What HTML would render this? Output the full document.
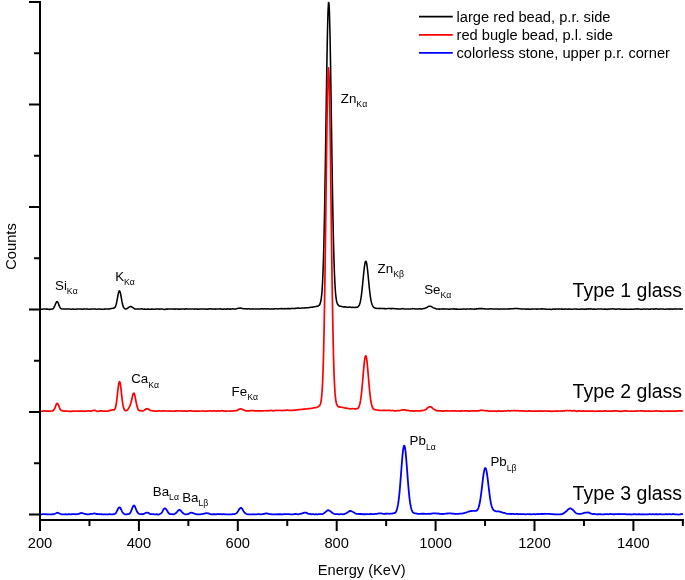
<!DOCTYPE html><html><head><meta charset="utf-8"><title>XRF spectra</title>
<style>html,body{margin:0;padding:0;background:#fff}svg{display:block}text{font-family:"Liberation Sans",sans-serif;fill:#000}</style></head><body>
<svg width="685" height="580" viewBox="0 0 685 580">
<rect width="685" height="580" fill="#fff"/>
<polyline fill="none" stroke="#000" stroke-width="1.55" stroke-linejoin="round" points="40.0,309.08 40.5,309.10 41.0,309.15 41.5,309.20 42.0,309.22 42.5,309.17 43.0,309.09 43.5,309.05 44.0,309.07 44.5,309.09 45.0,309.07 45.5,309.07 46.0,309.10 46.5,309.13 47.0,309.13 47.5,309.14 48.0,309.22 48.5,309.29 49.0,309.39 49.5,309.38 50.0,309.37 50.5,309.27 51.0,309.20 51.5,309.08 52.0,309.03 52.5,308.94 53.0,308.75 53.5,308.22 54.0,307.46 54.5,306.44 55.0,305.29 55.5,304.00 56.0,302.78 56.5,301.88 57.0,301.51 57.5,301.80 58.0,302.62 58.5,303.81 59.0,305.13 59.5,306.35 60.0,307.37 60.5,308.11 61.0,308.57 61.5,308.83 62.0,308.94 62.5,309.03 63.0,309.05 63.5,309.05 64.0,308.99 64.5,308.96 65.0,309.00 65.5,309.07 66.0,309.10 66.5,309.06 67.0,309.04 67.5,309.02 68.0,308.99 68.5,308.97 69.0,308.98 69.5,309.05 70.0,309.09 70.5,309.15 71.0,309.16 71.5,309.21 72.0,309.17 72.5,309.08 73.0,309.02 73.5,309.04 74.0,309.13 74.5,309.20 75.0,309.22 75.5,309.24 76.0,309.17 76.5,309.08 77.0,308.98 77.5,309.00 78.0,309.07 78.5,309.08 79.0,309.06 79.5,309.02 80.0,309.05 80.5,309.07 81.0,309.09 81.5,309.12 82.0,309.15 82.5,309.19 83.0,309.14 83.5,309.07 84.0,308.99 84.5,308.97 85.0,309.00 85.5,309.01 86.0,309.02 86.5,308.99 87.0,309.04 87.5,309.07 88.0,309.17 88.5,309.24 89.0,309.33 89.5,309.34 90.0,309.28 90.5,309.15 91.0,309.03 91.5,308.99 92.0,309.05 92.5,309.09 93.0,309.10 93.5,309.06 94.0,309.06 94.5,309.04 95.0,309.04 95.5,309.07 96.0,309.12 96.5,309.15 97.0,309.15 97.5,309.17 98.0,309.13 98.5,309.10 99.0,309.03 99.5,309.05 100.0,309.07 100.5,309.17 101.0,309.24 101.5,309.29 102.0,309.30 102.5,309.24 103.0,309.25 103.5,309.18 104.0,309.20 104.5,309.11 105.0,309.10 105.5,309.07 106.0,309.09 106.5,309.06 107.0,308.98 107.5,308.93 108.0,308.95 108.5,309.01 109.0,308.97 109.5,308.89 110.0,308.73 110.5,308.64 111.0,308.54 111.5,308.51 112.0,308.41 112.5,308.33 113.0,308.19 113.5,308.13 114.0,308.02 114.5,307.84 115.0,307.37 115.5,306.46 116.0,305.02 116.5,303.01 117.0,300.55 117.5,297.81 118.0,295.06 118.5,292.69 119.0,291.17 119.5,290.83 120.0,291.64 120.5,293.48 121.0,296.00 121.5,298.90 122.0,301.70 122.5,304.08 123.0,305.89 123.5,307.12 124.0,307.97 124.5,308.46 125.0,308.78 125.5,308.88 126.0,308.91 126.5,308.85 127.0,308.69 127.5,308.40 128.0,307.98 128.5,307.58 129.0,307.18 129.5,306.88 130.0,306.63 130.5,306.51 131.0,306.53 131.5,306.74 132.0,307.03 132.5,307.37 133.0,307.70 133.5,308.07 134.0,308.45 134.5,308.75 135.0,308.90 135.5,308.92 136.0,308.92 136.5,308.93 137.0,308.94 137.5,308.92 138.0,308.92 138.5,308.93 139.0,308.99 139.5,309.00 140.0,309.04 140.5,308.98 141.0,308.93 141.5,308.83 142.0,308.83 142.5,308.94 143.0,309.10 143.5,309.20 144.0,309.17 144.5,309.12 145.0,309.10 145.5,309.16 146.0,309.24 146.5,309.27 147.0,309.20 147.5,309.11 148.0,309.10 148.5,309.15 149.0,309.21 149.5,309.25 150.0,309.26 150.5,309.25 151.0,309.21 151.5,309.13 152.0,309.09 152.5,309.09 153.0,309.18 153.5,309.22 154.0,309.23 154.5,309.20 155.0,309.15 155.5,309.11 156.0,309.01 156.5,308.98 157.0,308.94 157.5,309.02 158.0,309.02 158.5,309.10 159.0,309.13 159.5,309.18 160.0,309.13 160.5,309.07 161.0,309.05 161.5,309.03 162.0,309.02 162.5,309.04 163.0,309.14 163.5,309.28 164.0,309.40 164.5,309.46 165.0,309.40 165.5,309.24 166.0,309.09 166.5,309.08 167.0,309.13 167.5,309.12 168.0,309.04 168.5,309.01 169.0,309.02 169.5,309.03 170.0,309.00 170.5,308.97 171.0,308.99 171.5,309.03 172.0,309.10 172.5,309.07 173.0,309.08 173.5,309.06 174.0,309.12 174.5,309.13 175.0,309.12 175.5,309.04 176.0,308.93 176.5,308.90 177.0,308.93 177.5,309.03 178.0,309.12 178.5,309.20 179.0,309.15 179.5,309.13 180.0,309.10 180.5,309.15 181.0,309.10 181.5,309.04 182.0,308.96 182.5,308.93 183.0,308.94 183.5,308.97 184.0,309.08 184.5,309.12 185.0,309.11 185.5,308.96 186.0,308.88 186.5,308.86 187.0,308.92 187.5,308.98 188.0,309.03 188.5,309.06 189.0,309.03 189.5,308.97 190.0,308.91 190.5,308.95 191.0,309.03 191.5,309.07 192.0,309.03 192.5,308.94 193.0,308.95 193.5,309.02 194.0,309.11 194.5,309.12 195.0,309.08 195.5,309.03 196.0,309.04 196.5,309.06 197.0,309.11 197.5,309.13 198.0,309.19 198.5,309.15 199.0,309.13 199.5,309.04 200.0,309.00 200.5,308.94 201.0,308.94 201.5,308.99 202.0,309.05 202.5,309.08 203.0,309.08 203.5,309.03 204.0,308.95 204.5,308.90 205.0,308.98 205.5,309.05 206.0,309.14 206.5,309.15 207.0,309.15 207.5,309.12 208.0,309.04 208.5,308.97 209.0,308.88 209.5,308.86 210.0,308.83 210.5,308.84 211.0,308.87 211.5,308.99 212.0,309.09 212.5,309.12 213.0,309.00 213.5,308.92 214.0,308.94 214.5,309.06 215.0,309.12 215.5,309.11 216.0,309.05 216.5,309.01 217.0,309.00 217.5,309.00 218.0,309.01 218.5,309.02 219.0,309.00 219.5,308.94 220.0,308.87 220.5,308.82 221.0,308.90 221.5,309.00 222.0,309.14 222.5,309.19 223.0,309.22 223.5,309.14 224.0,309.03 224.5,308.99 225.0,309.05 225.5,309.15 226.0,309.13 226.5,309.02 227.0,308.88 227.5,308.83 228.0,308.92 228.5,309.05 229.0,309.12 229.5,309.11 230.0,309.09 230.5,309.11 231.0,309.07 231.5,309.02 232.0,308.88 232.5,308.84 233.0,308.83 233.5,308.90 234.0,308.93 234.5,308.95 235.0,308.96 235.5,308.99 236.0,308.95 236.5,308.83 237.0,308.63 237.5,308.45 238.0,308.32 238.5,308.27 239.0,308.26 239.5,308.19 240.0,308.13 240.5,308.06 241.0,308.09 241.5,308.19 242.0,308.37 242.5,308.54 243.0,308.64 243.5,308.71 244.0,308.76 244.5,308.83 245.0,308.78 245.5,308.78 246.0,308.78 246.5,308.92 247.0,308.94 247.5,308.93 248.0,308.79 248.5,308.79 249.0,308.80 249.5,308.94 250.0,309.01 250.5,309.06 251.0,309.02 251.5,308.95 252.0,308.92 252.5,308.89 253.0,308.94 253.5,308.99 254.0,309.02 254.5,309.01 255.0,309.00 255.5,309.01 256.0,309.04 256.5,309.06 257.0,309.08 257.5,309.03 258.0,308.98 258.5,308.94 259.0,308.98 259.5,309.00 260.0,309.00 260.5,308.96 261.0,308.87 261.5,308.84 262.0,308.80 262.5,308.85 263.0,308.87 263.5,308.90 264.0,308.89 264.5,308.85 265.0,308.83 265.5,308.83 266.0,308.88 266.5,308.91 267.0,308.87 267.5,308.84 268.0,308.81 268.5,308.89 269.0,308.91 269.5,308.96 270.0,308.95 270.5,308.99 271.0,308.95 271.5,308.90 272.0,308.86 272.5,308.92 273.0,308.98 273.5,308.97 274.0,308.92 274.5,308.87 275.0,308.85 275.5,308.83 276.0,308.79 276.5,308.79 277.0,308.81 277.5,308.90 278.0,308.90 278.5,308.85 279.0,308.70 279.5,308.67 280.0,308.65 280.5,308.68 281.0,308.62 281.5,308.59 282.0,308.61 282.5,308.74 283.0,308.85 283.5,308.86 284.0,308.76 284.5,308.64 285.0,308.63 285.5,308.69 286.0,308.70 286.5,308.70 287.0,308.64 287.5,308.71 288.0,308.64 288.5,308.63 289.0,308.54 289.5,308.61 290.0,308.64 290.5,308.65 291.0,308.53 291.5,308.41 292.0,308.37 292.5,308.47 293.0,308.57 293.5,308.60 294.0,308.52 294.5,308.43 295.0,308.39 295.5,308.39 296.0,308.39 296.5,308.31 297.0,308.18 297.5,308.06 298.0,308.04 298.5,308.11 299.0,308.20 299.5,308.23 300.0,308.22 300.5,308.20 301.0,308.15 301.5,308.10 302.0,308.00 302.5,307.96 303.0,307.93 303.5,307.96 304.0,307.97 304.5,307.96 305.0,307.89 305.5,307.81 306.0,307.75 306.5,307.73 307.0,307.74 307.5,307.71 308.0,307.69 308.5,307.65 309.0,307.60 309.5,307.54 310.0,307.41 310.5,307.30 311.0,307.22 311.5,307.20 312.0,307.16 312.5,307.12 313.0,307.02 313.5,306.95 314.0,306.85 314.5,306.77 315.0,306.64 315.5,306.55 316.0,306.44 316.5,306.39 317.0,306.29 317.5,306.19 318.0,305.97 318.5,305.72 319.0,305.36 319.5,304.86 320.0,304.02 320.5,302.58 321.0,300.25 321.5,296.71 322.0,291.37 322.5,283.54 323.0,272.43 323.5,257.48 324.0,238.23 324.5,214.46 325.0,186.35 325.5,154.69 326.0,121.02 326.5,87.41 327.0,56.28 327.5,30.29 328.0,11.72 328.5,2.46 329.0,3.38 329.5,14.48 330.0,34.57 330.5,61.76 331.0,93.63 331.5,127.63 332.0,161.22 332.5,192.38 333.0,219.70 333.5,242.55 334.0,260.82 334.5,274.87 335.0,285.21 335.5,292.55 336.0,297.49 336.5,300.70 337.0,302.72 337.5,304.01 338.0,304.84 338.5,305.39 339.0,305.78 339.5,306.04 340.0,306.18 340.5,306.22 341.0,306.30 341.5,306.41 342.0,306.57 342.5,306.66 343.0,306.78 343.5,306.87 344.0,306.94 344.5,306.89 345.0,306.85 345.5,306.87 346.0,306.95 346.5,307.07 347.0,307.17 347.5,307.28 348.0,307.25 348.5,307.17 349.0,307.06 349.5,307.05 350.0,307.12 350.5,307.20 351.0,307.29 351.5,307.36 352.0,307.41 352.5,307.38 353.0,307.34 353.5,307.32 354.0,307.40 354.5,307.44 355.0,307.45 355.5,307.37 356.0,307.37 356.5,307.34 357.0,307.33 357.5,307.15 358.0,306.81 358.5,306.28 359.0,305.57 359.5,304.55 360.0,303.01 360.5,300.87 361.0,298.04 361.5,294.50 362.0,290.21 362.5,285.41 363.0,280.26 363.5,275.12 364.0,270.21 364.5,266.07 365.0,263.01 365.5,261.40 366.0,261.29 366.5,262.69 367.0,265.50 367.5,269.48 368.0,274.29 368.5,279.51 369.0,284.69 369.5,289.56 370.0,293.88 370.5,297.57 371.0,300.47 371.5,302.65 372.0,304.26 372.5,305.51 373.0,306.45 373.5,307.08 374.0,307.50 374.5,307.81 375.0,308.01 375.5,308.13 376.0,308.23 376.5,308.36 377.0,308.46 377.5,308.48 378.0,308.42 378.5,308.40 379.0,308.37 379.5,308.38 380.0,308.37 380.5,308.42 381.0,308.47 381.5,308.57 382.0,308.57 382.5,308.57 383.0,308.52 383.5,308.56 384.0,308.61 384.5,308.63 385.0,308.64 385.5,308.67 386.0,308.76 386.5,308.72 387.0,308.61 387.5,308.46 388.0,308.46 388.5,308.49 389.0,308.52 389.5,308.53 390.0,308.59 390.5,308.63 391.0,308.61 391.5,308.62 392.0,308.61 392.5,308.60 393.0,308.52 393.5,308.50 394.0,308.61 394.5,308.73 395.0,308.85 395.5,308.82 396.0,308.78 396.5,308.73 397.0,308.79 397.5,308.86 398.0,308.93 398.5,308.92 399.0,308.93 399.5,308.92 400.0,308.98 400.5,308.98 401.0,308.97 401.5,308.84 402.0,308.72 402.5,308.63 403.0,308.69 403.5,308.84 404.0,309.02 404.5,309.09 405.0,309.07 405.5,309.04 406.0,309.02 406.5,309.06 407.0,309.02 407.5,309.02 408.0,308.95 408.5,308.94 409.0,308.94 409.5,308.97 410.0,309.03 410.5,309.06 411.0,309.03 411.5,308.87 412.0,308.69 412.5,308.60 413.0,308.66 413.5,308.75 414.0,308.84 414.5,308.84 415.0,308.89 415.5,308.92 416.0,308.96 416.5,308.97 417.0,309.00 417.5,309.03 418.0,309.00 418.5,308.91 419.0,308.83 419.5,308.84 420.0,308.86 420.5,308.90 421.0,308.91 421.5,308.93 422.0,308.88 422.5,308.80 423.0,308.68 423.5,308.60 424.0,308.50 424.5,308.43 425.0,308.25 425.5,308.09 426.0,307.84 426.5,307.67 427.0,307.38 427.5,307.04 428.0,306.64 428.5,306.38 429.0,306.22 429.5,306.21 430.0,306.20 430.5,306.28 431.0,306.41 431.5,306.67 432.0,306.99 432.5,307.34 433.0,307.63 433.5,307.88 434.0,308.04 434.5,308.16 435.0,308.28 435.5,308.45 436.0,308.70 436.5,308.92 437.0,309.06 437.5,309.09 438.0,309.08 438.5,309.09 439.0,309.11 439.5,309.12 440.0,309.05 440.5,309.00 441.0,308.94 441.5,308.95 442.0,308.91 442.5,308.90 443.0,308.87 443.5,308.89 444.0,308.94 444.5,309.03 445.0,309.10 445.5,309.09 446.0,309.10 446.5,309.04 447.0,309.03 447.5,308.98 448.0,309.06 448.5,309.15 449.0,309.21 449.5,309.17 450.0,309.11 450.5,309.09 451.0,309.07 451.5,309.07 452.0,309.05 452.5,309.04 453.0,308.94 453.5,308.87 454.0,308.85 454.5,308.99 455.0,309.07 455.5,309.12 456.0,309.09 456.5,309.12 457.0,309.13 457.5,309.15 458.0,309.17 458.5,309.22 459.0,309.27 459.5,309.31 460.0,309.27 460.5,309.18 461.0,309.13 461.5,309.15 462.0,309.17 462.5,309.11 463.0,309.02 463.5,308.99 464.0,309.02 464.5,309.07 465.0,309.09 465.5,309.15 466.0,309.14 466.5,309.09 467.0,308.96 467.5,308.93 468.0,308.91 468.5,308.98 469.0,309.00 469.5,309.00 470.0,308.92 470.5,308.86 471.0,308.89 471.5,308.98 472.0,309.01 472.5,308.98 473.0,309.00 473.5,309.10 474.0,309.17 474.5,309.14 475.0,309.03 475.5,308.93 476.0,308.85 476.5,308.86 477.0,308.86 477.5,308.85 478.0,308.72 478.5,308.62 479.0,308.60 479.5,308.60 480.0,308.62 480.5,308.60 481.0,308.64 481.5,308.62 482.0,308.62 482.5,308.60 483.0,308.65 483.5,308.69 484.0,308.74 484.5,308.79 485.0,308.87 485.5,308.91 486.0,308.92 486.5,308.93 487.0,308.97 487.5,309.01 488.0,309.03 488.5,309.08 489.0,309.07 489.5,309.02 490.0,308.84 490.5,308.75 491.0,308.75 491.5,308.87 492.0,308.95 492.5,308.97 493.0,308.98 493.5,308.97 494.0,309.03 494.5,308.97 495.0,308.97 495.5,308.94 496.0,309.00 496.5,309.03 497.0,309.03 497.5,308.99 498.0,309.00 498.5,309.08 499.0,309.16 499.5,309.17 500.0,309.07 500.5,309.01 501.0,308.96 501.5,308.99 502.0,309.02 502.5,309.08 503.0,309.09 503.5,309.10 504.0,309.04 504.5,309.07 505.0,309.07 505.5,309.10 506.0,309.08 506.5,309.06 507.0,309.09 507.5,309.10 508.0,309.04 508.5,308.93 509.0,308.87 509.5,308.86 510.0,308.86 510.5,308.84 511.0,308.82 511.5,308.79 512.0,308.78 512.5,308.75 513.0,308.71 513.5,308.66 514.0,308.63 514.5,308.60 515.0,308.57 515.5,308.49 516.0,308.46 516.5,308.44 517.0,308.44 517.5,308.48 518.0,308.54 518.5,308.70 519.0,308.74 519.5,308.75 520.0,308.75 520.5,308.87 521.0,309.03 521.5,309.08 522.0,309.01 522.5,308.94 523.0,308.93 523.5,308.97 524.0,308.98 524.5,308.97 525.0,309.03 525.5,309.08 526.0,309.18 526.5,309.14 527.0,309.13 527.5,309.07 528.0,309.10 528.5,309.13 529.0,309.16 529.5,309.22 530.0,309.25 530.5,309.24 531.0,309.12 531.5,309.03 532.0,308.95 532.5,308.97 533.0,308.98 533.5,309.01 534.0,309.00 534.5,308.99 535.0,308.99 535.5,309.05 536.0,309.09 536.5,309.12 537.0,309.10 537.5,309.10 538.0,309.05 538.5,309.07 539.0,309.07 539.5,309.09 540.0,309.07 540.5,309.02 541.0,308.97 541.5,308.88 542.0,308.85 542.5,308.85 543.0,308.95 543.5,309.04 544.0,309.09 544.5,309.07 545.0,309.06 545.5,309.12 546.0,309.19 546.5,309.29 547.0,309.29 547.5,309.29 548.0,309.22 548.5,309.21 549.0,309.16 549.5,309.17 550.0,309.20 550.5,309.29 551.0,309.37 551.5,309.40 552.0,309.33 552.5,309.22 553.0,309.09 553.5,309.10 554.0,309.10 554.5,309.17 555.0,309.12 555.5,309.11 556.0,309.02 556.5,308.96 557.0,308.91 557.5,308.98 558.0,309.05 558.5,309.12 559.0,309.07 559.5,309.05 560.0,308.97 560.5,309.01 561.0,309.04 561.5,309.13 562.0,309.12 562.5,309.11 563.0,309.11 563.5,309.18 564.0,309.21 564.5,309.15 565.0,309.00 565.5,308.90 566.0,308.95 566.5,309.10 567.0,309.17 567.5,309.15 568.0,309.10 568.5,309.11 569.0,309.08 569.5,309.04 570.0,309.04 570.5,309.14 571.0,309.25 571.5,309.35 572.0,309.33 572.5,309.30 573.0,309.17 573.5,309.08 574.0,308.94 574.5,308.91 575.0,308.93 575.5,308.99 576.0,309.01 576.5,309.04 577.0,309.11 577.5,309.20 578.0,309.20 578.5,309.21 579.0,309.20 579.5,309.29 580.0,309.26 580.5,309.22 581.0,309.12 581.5,309.08 582.0,309.04 582.5,309.08 583.0,309.11 583.5,309.21 584.0,309.19 584.5,309.18 585.0,309.12 585.5,309.14 586.0,309.15 586.5,309.12 587.0,309.08 587.5,309.02 588.0,308.94 588.5,308.88 589.0,308.89 589.5,308.95 590.0,308.93 590.5,308.88 591.0,308.89 591.5,308.99 592.0,309.10 592.5,309.15 593.0,309.14 593.5,309.12 594.0,309.09 594.5,309.14 595.0,309.18 595.5,309.23 596.0,309.21 596.5,309.16 597.0,309.08 597.5,309.01 598.0,308.98 598.5,308.99 599.0,309.02 599.5,309.06 600.0,309.08 600.5,309.10 601.0,309.07 601.5,309.07 602.0,309.04 602.5,309.09 603.0,309.15 603.5,309.19 604.0,309.19 604.5,309.13 605.0,309.11 605.5,309.13 606.0,309.23 606.5,309.35 607.0,309.37 607.5,309.30 608.0,309.14 608.5,309.06 609.0,309.07 609.5,309.12 610.0,309.10 610.5,309.01 611.0,308.97 611.5,308.91 612.0,308.85 612.5,308.79 613.0,308.83 613.5,308.92 614.0,309.01 614.5,309.08 615.0,309.14 615.5,309.20 616.0,309.20 616.5,309.18 617.0,309.07 617.5,309.01 618.0,308.96 618.5,309.04 619.0,309.08 619.5,309.08 620.0,309.03 620.5,309.04 621.0,309.14 621.5,309.25 622.0,309.29 622.5,309.23 623.0,309.16 623.5,309.14 624.0,309.16 624.5,309.15 625.0,309.12 625.5,309.09 626.0,309.16 626.5,309.24 627.0,309.26 627.5,309.24 628.0,309.18 628.5,309.21 629.0,309.18 629.5,309.18 630.0,309.15 630.5,309.16 631.0,309.14 631.5,309.16 632.0,309.19 632.5,309.26 633.0,309.25 633.5,309.22 634.0,309.15 634.5,309.07 635.0,309.01 635.5,308.99 636.0,308.99 636.5,308.94 637.0,308.88 637.5,308.86 638.0,308.91 638.5,308.99 639.0,309.07 639.5,309.10 640.0,309.16 640.5,309.15 641.0,309.21 641.5,309.24 642.0,309.29 642.5,309.23 643.0,309.11 643.5,309.00 644.0,308.98 644.5,309.05 645.0,309.11 645.5,309.15 646.0,309.10 646.5,309.04 647.0,308.96 647.5,308.97 648.0,309.09 648.5,309.24 649.0,309.33 649.5,309.30 650.0,309.20 650.5,309.11 651.0,309.10 651.5,309.09 652.0,309.06 652.5,309.04 653.0,309.08 653.5,309.14 654.0,309.13 654.5,309.04 655.0,308.95 655.5,308.88 656.0,308.84 656.5,308.83 657.0,308.91 657.5,309.02 658.0,309.13 658.5,309.15 659.0,309.11 659.5,309.07 660.0,309.07 660.5,309.09 661.0,309.07 661.5,309.00 662.0,308.96 662.5,308.93 663.0,308.93 663.5,309.00 664.0,309.13 664.5,309.27 665.0,309.30 665.5,309.26 666.0,309.16 666.5,309.09 667.0,309.07 667.5,309.07 668.0,309.08 668.5,309.06 669.0,309.11 669.5,309.13 670.0,309.14 670.5,309.09 671.0,309.09 671.5,309.10 672.0,309.15 672.5,309.14 673.0,309.11 673.5,309.07 674.0,309.08 674.5,309.01 675.0,308.98 675.5,308.88 676.0,308.94 676.5,308.96 677.0,309.03 677.5,309.01 678.0,308.97 678.5,308.92 679.0,308.94 679.5,309.03 680.0,309.10 680.5,309.11 681.0,309.03 681.5,308.96 682.0,308.90 682.5,308.93 683.0,308.96"/>
<polyline fill="none" stroke="#f00" stroke-width="1.7" stroke-linejoin="round" points="40.0,410.99 40.5,411.10 41.0,411.26 41.5,411.29 42.0,411.24 42.5,411.07 43.0,411.02 43.5,410.90 44.0,410.86 44.5,410.82 45.0,410.90 45.5,410.99 46.0,411.06 46.5,411.09 47.0,411.10 47.5,411.07 48.0,411.06 48.5,411.05 49.0,411.14 49.5,411.15 50.0,411.15 50.5,411.06 51.0,410.99 51.5,411.00 52.0,410.96 52.5,410.92 53.0,410.64 53.5,410.26 54.0,409.66 54.5,408.90 55.0,407.85 55.5,406.48 56.0,405.07 56.5,403.92 57.0,403.44 57.5,403.55 58.0,404.20 58.5,405.16 59.0,406.41 59.5,407.79 60.0,408.99 60.5,409.81 61.0,410.21 61.5,410.40 62.0,410.58 62.5,410.78 63.0,410.93 63.5,411.04 64.0,411.08 64.5,411.14 65.0,411.09 65.5,411.04 66.0,410.96 66.5,410.98 67.0,411.07 67.5,411.18 68.0,411.23 68.5,411.24 69.0,411.28 69.5,411.31 70.0,411.35 70.5,411.36 71.0,411.41 71.5,411.39 72.0,411.32 72.5,411.11 73.0,411.01 73.5,410.98 74.0,411.09 74.5,411.11 75.0,411.10 75.5,411.03 76.0,411.00 76.5,411.01 77.0,411.12 77.5,411.21 78.0,411.23 78.5,411.17 79.0,411.17 79.5,411.20 80.0,411.18 80.5,411.11 81.0,411.04 81.5,411.03 82.0,411.06 82.5,411.12 83.0,411.18 83.5,411.18 84.0,411.20 84.5,411.23 85.0,411.27 85.5,411.15 86.0,411.06 86.5,410.96 87.0,411.03 87.5,410.97 88.0,410.99 88.5,410.88 89.0,410.88 89.5,410.90 90.0,410.98 90.5,411.05 91.0,411.08 91.5,411.03 92.0,410.90 92.5,410.62 93.0,410.50 93.5,410.43 94.0,410.50 94.5,410.43 95.0,410.45 95.5,410.56 96.0,410.79 96.5,411.04 97.0,411.21 97.5,411.32 98.0,411.32 98.5,411.26 99.0,411.20 99.5,411.08 100.0,410.97 100.5,410.85 101.0,410.83 101.5,410.90 102.0,410.99 102.5,411.06 103.0,411.09 103.5,411.11 104.0,411.18 104.5,411.20 105.0,411.18 105.5,411.07 106.0,410.99 106.5,411.04 107.0,411.10 107.5,411.20 108.0,411.15 108.5,410.97 109.0,410.67 109.5,410.47 110.0,410.38 110.5,410.36 111.0,410.23 111.5,410.10 112.0,409.97 112.5,409.93 113.0,409.94 113.5,409.96 114.0,409.92 114.5,409.61 115.0,408.90 115.5,407.46 116.0,405.27 116.5,402.12 117.0,398.19 117.5,393.69 118.0,389.21 118.5,385.36 119.0,382.68 119.5,381.64 120.0,382.41 120.5,385.01 121.0,388.93 121.5,393.55 122.0,398.04 122.5,402.05 123.0,405.23 123.5,407.57 124.0,409.04 124.5,409.82 125.0,410.27 125.5,410.54 126.0,410.61 126.5,410.50 127.0,410.21 127.5,409.82 128.0,409.22 128.5,408.46 129.0,407.62 129.5,406.64 130.0,405.54 130.5,404.14 131.0,402.55 131.5,400.58 132.0,398.39 132.5,396.15 133.0,394.27 133.5,393.23 134.0,393.22 134.5,394.33 135.0,396.29 135.5,398.81 136.0,401.48 136.5,403.97 137.0,406.11 137.5,407.86 138.0,409.16 138.5,410.03 139.0,410.48 139.5,410.64 140.0,410.65 140.5,410.66 141.0,410.76 141.5,410.90 142.0,411.00 142.5,411.00 143.0,410.90 143.5,410.70 144.0,410.37 144.5,410.01 145.0,409.63 145.5,409.37 146.0,409.10 146.5,408.91 147.0,408.71 147.5,408.72 148.0,408.84 148.5,409.18 149.0,409.54 149.5,409.88 150.0,410.16 150.5,410.37 151.0,410.58 151.5,410.67 152.0,410.74 152.5,410.76 153.0,410.84 153.5,410.90 154.0,411.01 154.5,411.08 155.0,411.17 155.5,411.18 156.0,411.17 156.5,411.09 157.0,411.07 157.5,411.03 158.0,410.99 158.5,410.86 159.0,410.84 159.5,410.88 160.0,410.99 160.5,411.01 161.0,411.04 161.5,411.05 162.0,411.02 162.5,410.95 163.0,410.88 163.5,410.95 164.0,410.96 164.5,410.97 165.0,410.96 165.5,410.98 166.0,411.02 166.5,410.98 167.0,410.96 167.5,410.99 168.0,411.05 168.5,411.04 169.0,411.02 169.5,410.95 170.0,411.02 170.5,411.02 171.0,411.08 171.5,411.10 172.0,411.19 172.5,411.27 173.0,411.26 173.5,411.18 174.0,411.08 174.5,411.05 175.0,411.07 175.5,411.06 176.0,410.95 176.5,410.87 177.0,410.86 177.5,410.96 178.0,411.01 178.5,410.98 179.0,410.90 179.5,410.88 180.0,410.94 180.5,411.02 181.0,411.01 181.5,410.97 182.0,410.93 182.5,411.01 183.0,411.07 183.5,411.07 184.0,410.99 184.5,410.97 185.0,411.02 185.5,411.12 186.0,411.20 186.5,411.23 187.0,411.20 187.5,411.09 188.0,411.00 188.5,410.90 189.0,410.87 189.5,410.82 190.0,410.80 190.5,410.79 191.0,410.84 191.5,410.89 192.0,410.95 192.5,410.99 193.0,411.04 193.5,411.11 194.0,411.16 194.5,411.21 195.0,411.17 195.5,411.17 196.0,411.17 196.5,411.21 197.0,411.15 197.5,411.11 198.0,411.06 198.5,411.10 199.0,411.09 199.5,411.08 200.0,411.02 200.5,410.99 201.0,410.99 201.5,411.00 202.0,410.99 202.5,411.00 203.0,410.97 203.5,411.01 204.0,411.05 204.5,411.20 205.0,411.25 205.5,411.28 206.0,411.24 206.5,411.20 207.0,411.15 207.5,411.09 208.0,411.06 208.5,411.02 209.0,411.01 209.5,410.97 210.0,410.91 210.5,410.86 211.0,410.90 211.5,411.00 212.0,411.06 212.5,411.04 213.0,410.99 213.5,410.97 214.0,410.97 214.5,410.97 215.0,410.94 215.5,410.98 216.0,411.04 216.5,411.13 217.0,411.07 217.5,410.98 218.0,410.88 218.5,410.94 219.0,411.01 219.5,411.05 220.0,410.99 220.5,410.87 221.0,410.80 221.5,410.71 222.0,410.74 222.5,410.74 223.0,410.86 223.5,410.94 224.0,411.05 224.5,411.04 225.0,411.08 225.5,411.08 226.0,411.11 226.5,411.04 227.0,411.02 227.5,411.00 228.0,411.00 228.5,411.00 229.0,411.03 229.5,411.08 230.0,411.06 230.5,411.00 231.0,410.97 231.5,411.00 232.0,411.04 232.5,411.01 233.0,410.95 233.5,410.85 234.0,410.81 234.5,410.73 235.0,410.69 235.5,410.69 236.0,410.70 236.5,410.71 237.0,410.58 237.5,410.33 238.0,409.97 238.5,409.61 239.0,409.35 239.5,409.11 240.0,409.00 240.5,408.88 241.0,408.92 241.5,409.00 242.0,409.23 242.5,409.50 243.0,409.79 243.5,410.00 244.0,410.13 244.5,410.28 245.0,410.48 245.5,410.72 246.0,410.85 246.5,410.95 247.0,410.93 247.5,410.95 248.0,410.89 248.5,410.92 249.0,410.87 249.5,410.82 250.0,410.72 250.5,410.69 251.0,410.67 251.5,410.66 252.0,410.64 252.5,410.63 253.0,410.65 253.5,410.67 254.0,410.76 254.5,410.83 255.0,410.88 255.5,410.88 256.0,410.84 256.5,410.84 257.0,410.78 257.5,410.82 258.0,410.86 258.5,410.94 259.0,410.90 259.5,410.84 260.0,410.87 260.5,410.91 261.0,410.97 261.5,410.85 262.0,410.85 262.5,410.79 263.0,410.84 263.5,410.76 264.0,410.76 264.5,410.73 265.0,410.74 265.5,410.71 266.0,410.66 266.5,410.72 267.0,410.80 267.5,410.81 268.0,410.70 268.5,410.58 269.0,410.59 269.5,410.67 270.0,410.71 270.5,410.60 271.0,410.47 271.5,410.45 272.0,410.52 272.5,410.67 273.0,410.77 273.5,410.82 274.0,410.78 274.5,410.61 275.0,410.51 275.5,410.42 276.0,410.48 276.5,410.46 277.0,410.41 277.5,410.38 278.0,410.43 278.5,410.50 279.0,410.48 279.5,410.46 280.0,410.47 280.5,410.48 281.0,410.47 281.5,410.49 282.0,410.55 282.5,410.56 283.0,410.52 283.5,410.40 284.0,410.31 284.5,410.28 285.0,410.32 285.5,410.37 286.0,410.31 286.5,410.22 287.0,410.17 287.5,410.21 288.0,410.28 288.5,410.31 289.0,410.35 289.5,410.37 290.0,410.38 290.5,410.29 291.0,410.28 291.5,410.29 292.0,410.37 292.5,410.36 293.0,410.29 293.5,410.22 294.0,410.15 294.5,410.16 295.0,410.12 295.5,410.10 296.0,410.01 296.5,409.96 297.0,409.88 297.5,409.85 298.0,409.76 298.5,409.74 299.0,409.64 299.5,409.61 300.0,409.50 300.5,409.52 301.0,409.47 301.5,409.49 302.0,409.45 302.5,409.42 303.0,409.31 303.5,409.19 304.0,409.09 304.5,409.01 305.0,408.97 305.5,408.98 306.0,409.04 306.5,409.00 307.0,408.92 307.5,408.77 308.0,408.72 308.5,408.71 309.0,408.70 309.5,408.64 310.0,408.55 310.5,408.52 311.0,408.47 311.5,408.45 312.0,408.32 312.5,408.19 313.0,408.04 313.5,407.92 314.0,407.83 314.5,407.70 315.0,407.65 315.5,407.60 316.0,407.54 316.5,407.41 317.0,407.22 317.5,407.01 318.0,406.74 318.5,406.42 319.0,406.07 319.5,405.66 320.0,405.01 320.5,403.79 321.0,401.61 321.5,398.11 322.0,392.64 322.5,384.47 323.0,372.56 323.5,356.10 324.0,334.28 324.5,306.79 325.0,273.83 325.5,236.46 326.0,196.69 326.5,157.24 327.0,121.52 327.5,92.84 328.0,74.33 328.5,67.92 329.0,74.37 329.5,92.89 330.0,121.52 330.5,157.36 331.0,196.87 331.5,236.64 332.0,273.88 332.5,306.72 333.0,334.28 333.5,356.15 334.0,372.71 334.5,384.50 335.0,392.64 335.5,398.00 336.0,401.52 336.5,403.69 337.0,405.03 337.5,405.83 338.0,406.35 338.5,406.68 339.0,406.87 339.5,406.94 340.0,407.05 340.5,407.14 341.0,407.26 341.5,407.26 342.0,407.28 342.5,407.34 343.0,407.47 343.5,407.64 344.0,407.77 344.5,407.91 345.0,408.00 345.5,408.07 346.0,408.10 346.5,408.15 347.0,408.25 347.5,408.36 348.0,408.48 348.5,408.56 349.0,408.66 349.5,408.72 350.0,408.76 350.5,408.81 351.0,408.79 351.5,408.74 352.0,408.64 352.5,408.66 353.0,408.70 353.5,408.76 354.0,408.77 354.5,408.85 355.0,408.91 355.5,408.92 356.0,408.87 356.5,408.72 357.0,408.62 357.5,408.39 358.0,408.14 358.5,407.52 359.0,406.63 359.5,405.19 360.0,403.28 360.5,400.63 361.0,397.25 361.5,393.07 362.0,388.24 362.5,382.73 363.0,376.82 363.5,370.81 364.0,365.31 364.5,360.74 365.0,357.53 365.5,355.91 366.0,356.04 366.5,357.98 367.0,361.56 367.5,366.51 368.0,372.17 368.5,378.19 369.0,384.08 369.5,389.66 370.0,394.52 370.5,398.59 371.0,401.79 371.5,404.28 372.0,406.13 372.5,407.50 373.0,408.45 373.5,409.07 374.0,409.40 374.5,409.59 375.0,409.68 375.5,409.77 376.0,409.90 376.5,410.02 377.0,410.03 377.5,409.99 378.0,410.02 378.5,410.19 379.0,410.34 379.5,410.43 380.0,410.44 380.5,410.48 381.0,410.49 381.5,410.50 382.0,410.47 382.5,410.42 383.0,410.40 383.5,410.35 384.0,410.34 384.5,410.34 385.0,410.43 385.5,410.45 386.0,410.43 386.5,410.38 387.0,410.43 387.5,410.50 388.0,410.52 388.5,410.43 389.0,410.33 389.5,410.30 390.0,410.38 390.5,410.54 391.0,410.66 391.5,410.71 392.0,410.58 392.5,410.48 393.0,410.44 393.5,410.61 394.0,410.78 394.5,410.85 395.0,410.84 395.5,410.83 396.0,410.80 396.5,410.74 397.0,410.68 397.5,410.63 398.0,410.61 398.5,410.55 399.0,410.54 399.5,410.53 400.0,410.48 400.5,410.37 401.0,410.24 401.5,410.14 402.0,410.01 402.5,409.91 403.0,409.89 403.5,409.88 404.0,409.88 404.5,409.83 405.0,409.92 405.5,410.12 406.0,410.34 406.5,410.38 407.0,410.32 407.5,410.27 408.0,410.37 408.5,410.51 409.0,410.68 409.5,410.74 410.0,410.81 410.5,410.82 411.0,410.83 411.5,410.78 412.0,410.82 412.5,410.90 413.0,410.99 413.5,411.03 414.0,411.04 414.5,411.03 415.0,410.95 415.5,410.84 416.0,410.76 416.5,410.73 417.0,410.80 417.5,410.90 418.0,410.99 418.5,411.01 419.0,410.99 419.5,410.96 420.0,410.90 420.5,410.81 421.0,410.69 421.5,410.62 422.0,410.59 422.5,410.56 423.0,410.48 423.5,410.33 424.0,410.21 424.5,410.04 425.0,409.94 425.5,409.70 426.0,409.39 426.5,408.86 427.0,408.33 427.5,407.83 428.0,407.49 428.5,407.19 429.0,406.99 429.5,406.84 430.0,406.83 430.5,406.87 431.0,407.05 431.5,407.27 432.0,407.64 432.5,408.10 433.0,408.54 433.5,408.96 434.0,409.23 434.5,409.57 435.0,409.82 435.5,410.17 436.0,410.41 436.5,410.58 437.0,410.62 437.5,410.68 438.0,410.79 438.5,410.85 439.0,410.80 439.5,410.76 440.0,410.75 440.5,410.89 441.0,410.90 441.5,410.96 442.0,410.95 442.5,411.07 443.0,411.15 443.5,411.08 444.0,410.95 444.5,410.84 445.0,410.88 445.5,410.86 446.0,410.85 446.5,410.79 447.0,410.81 447.5,410.83 448.0,410.89 448.5,410.94 449.0,411.00 449.5,411.00 450.0,411.03 450.5,410.98 451.0,410.97 451.5,410.88 452.0,410.91 452.5,410.96 453.0,411.03 453.5,411.01 454.0,410.94 454.5,410.87 455.0,410.88 455.5,410.90 456.0,411.01 456.5,411.05 457.0,411.08 457.5,411.02 458.0,410.98 458.5,410.92 459.0,410.96 459.5,411.05 460.0,411.20 460.5,411.19 461.0,411.07 461.5,410.87 462.0,410.80 462.5,410.88 463.0,410.96 463.5,411.00 464.0,410.92 464.5,410.90 465.0,410.87 465.5,410.94 466.0,410.94 466.5,410.98 467.0,410.91 467.5,410.91 468.0,410.95 468.5,411.07 469.0,411.13 469.5,411.09 470.0,411.04 470.5,410.99 471.0,411.02 471.5,410.97 472.0,410.93 472.5,410.85 473.0,410.82 473.5,410.78 474.0,410.79 474.5,410.76 475.0,410.80 475.5,410.80 476.0,410.88 476.5,410.83 477.0,410.85 477.5,410.85 478.0,410.90 478.5,410.86 479.0,410.71 479.5,410.59 480.0,410.43 480.5,410.34 481.0,410.21 481.5,410.21 482.0,410.26 482.5,410.38 483.0,410.46 483.5,410.51 484.0,410.52 484.5,410.56 485.0,410.65 485.5,410.78 486.0,410.84 486.5,410.82 487.0,410.74 487.5,410.70 488.0,410.81 488.5,411.02 489.0,411.23 489.5,411.28 490.0,411.25 490.5,411.13 491.0,411.11 491.5,411.08 492.0,411.06 492.5,411.00 493.0,410.98 493.5,411.06 494.0,411.09 494.5,411.12 495.0,411.11 495.5,411.20 496.0,411.28 496.5,411.31 497.0,411.17 497.5,411.00 498.0,410.87 498.5,410.91 499.0,410.96 499.5,411.07 500.0,411.12 500.5,411.15 501.0,411.09 501.5,411.07 502.0,411.02 502.5,411.08 503.0,411.06 503.5,411.07 504.0,411.03 504.5,411.00 505.0,410.95 505.5,410.92 506.0,410.98 506.5,411.00 507.0,410.98 507.5,410.80 508.0,410.66 508.5,410.67 509.0,410.78 509.5,410.93 510.0,410.94 510.5,410.89 511.0,410.79 511.5,410.70 512.0,410.73 512.5,410.74 513.0,410.77 513.5,410.69 514.0,410.66 514.5,410.60 515.0,410.60 515.5,410.60 516.0,410.74 516.5,410.80 517.0,410.77 517.5,410.63 518.0,410.61 518.5,410.74 519.0,410.88 519.5,410.97 520.0,410.93 520.5,410.90 521.0,410.83 521.5,410.83 522.0,410.85 522.5,410.86 523.0,410.89 523.5,410.89 524.0,410.98 524.5,411.01 525.0,411.09 525.5,411.11 526.0,411.14 526.5,411.19 527.0,411.26 527.5,411.26 528.0,411.12 528.5,410.91 529.0,410.77 529.5,410.80 530.0,410.90 530.5,411.01 531.0,411.08 531.5,411.14 532.0,411.19 532.5,411.20 533.0,411.18 533.5,411.16 534.0,411.15 534.5,411.08 535.0,411.03 535.5,410.99 536.0,411.03 536.5,411.06 537.0,411.10 537.5,411.13 538.0,411.13 538.5,411.08 539.0,410.97 539.5,410.95 540.0,411.00 540.5,411.15 541.0,411.17 541.5,411.17 542.0,411.12 542.5,411.11 543.0,411.08 543.5,411.06 544.0,411.05 544.5,411.03 545.0,410.97 545.5,410.95 546.0,410.99 546.5,411.01 547.0,411.04 547.5,411.02 548.0,411.10 548.5,411.16 549.0,411.18 549.5,411.16 550.0,411.09 550.5,411.08 551.0,411.18 551.5,411.31 552.0,411.45 552.5,411.38 553.0,411.28 553.5,411.08 554.0,411.01 554.5,411.00 555.0,411.07 555.5,411.12 556.0,411.15 556.5,411.18 557.0,411.17 557.5,411.13 558.0,411.01 558.5,410.98 559.0,410.97 559.5,411.03 560.0,411.04 560.5,411.03 561.0,410.97 561.5,410.96 562.0,411.02 562.5,411.04 563.0,411.02 563.5,410.94 564.0,410.90 564.5,410.82 565.0,410.73 565.5,410.68 566.0,410.63 566.5,410.61 567.0,410.51 567.5,410.51 568.0,410.57 568.5,410.71 569.0,410.77 569.5,410.74 570.0,410.64 570.5,410.60 571.0,410.69 571.5,410.81 572.0,410.90 572.5,410.89 573.0,410.83 573.5,410.65 574.0,410.54 574.5,410.51 575.0,410.70 575.5,411.01 576.0,411.26 576.5,411.39 577.0,411.26 577.5,411.10 578.0,410.94 578.5,410.91 579.0,410.92 579.5,410.92 580.0,410.93 580.5,410.98 581.0,411.13 581.5,411.16 582.0,411.12 582.5,410.94 583.0,410.91 583.5,410.96 584.0,411.09 584.5,411.12 585.0,411.12 585.5,411.07 586.0,411.07 586.5,411.04 587.0,411.03 587.5,411.01 588.0,411.04 588.5,411.08 589.0,411.10 589.5,411.09 590.0,411.04 590.5,411.06 591.0,411.11 591.5,411.16 592.0,411.19 592.5,411.13 593.0,411.11 593.5,411.08 594.0,411.15 594.5,411.24 595.0,411.29 595.5,411.30 596.0,411.25 596.5,411.20 597.0,411.11 597.5,411.08 598.0,411.05 598.5,411.10 599.0,411.11 599.5,411.12 600.0,411.08 600.5,411.06 601.0,411.10 601.5,411.15 602.0,411.17 602.5,411.12 603.0,411.11 603.5,411.10 604.0,411.05 604.5,410.95 605.0,410.87 605.5,410.92 606.0,411.05 606.5,411.18 607.0,411.27 607.5,411.20 608.0,411.13 608.5,411.03 609.0,411.09 609.5,411.13 610.0,411.15 610.5,411.13 611.0,411.16 611.5,411.19 612.0,411.20 612.5,411.08 613.0,410.94 613.5,410.83 614.0,410.84 614.5,410.87 615.0,410.84 615.5,410.80 616.0,410.79 616.5,410.87 617.0,410.96 617.5,411.02 618.0,411.03 618.5,411.05 619.0,411.14 619.5,411.26 620.0,411.39 620.5,411.39 621.0,411.34 621.5,411.25 622.0,411.21 622.5,411.16 623.0,411.07 623.5,410.97 624.0,410.86 624.5,410.84 625.0,410.87 625.5,410.96 626.0,410.97 626.5,410.97 627.0,410.96 627.5,411.02 628.0,411.13 628.5,411.21 629.0,411.25 629.5,411.25 630.0,411.26 630.5,411.27 631.0,411.22 631.5,411.13 632.0,411.12 632.5,411.16 633.0,411.28 633.5,411.27 634.0,411.24 634.5,411.14 635.0,411.09 635.5,411.04 636.0,411.05 636.5,411.04 637.0,411.06 637.5,411.02 638.0,411.01 638.5,410.97 639.0,410.99 639.5,411.00 640.0,411.00 640.5,410.95 641.0,410.91 641.5,410.89 642.0,410.92 642.5,410.92 643.0,410.95 643.5,411.01 644.0,411.09 644.5,411.15 645.0,411.11 645.5,411.13 646.0,411.17 646.5,411.15 647.0,411.07 647.5,410.98 648.0,411.02 648.5,411.11 649.0,411.08 649.5,411.05 650.0,411.05 650.5,411.20 651.0,411.28 651.5,411.26 652.0,411.25 652.5,411.24 653.0,411.23 653.5,411.14 654.0,411.05 654.5,411.09 655.0,411.01 655.5,410.98 656.0,410.87 656.5,410.91 657.0,410.93 657.5,410.98 658.0,411.00 658.5,411.05 659.0,411.12 659.5,411.15 660.0,411.14 660.5,411.07 661.0,411.08 661.5,411.12 662.0,411.22 662.5,411.30 663.0,411.32 663.5,411.27 664.0,411.16 664.5,411.07 665.0,411.01 665.5,411.02 666.0,411.04 666.5,411.08 667.0,411.14 667.5,411.13 668.0,411.11 668.5,411.02 669.0,411.05 669.5,411.10 670.0,411.20 670.5,411.17 671.0,411.14 671.5,411.10 672.0,411.10 672.5,411.07 673.0,411.03 673.5,411.00 674.0,411.01 674.5,411.03 675.0,411.08 675.5,411.11 676.0,411.16 676.5,411.18 677.0,411.13 677.5,411.02 678.0,410.90 678.5,410.85 679.0,410.89 679.5,410.92 680.0,410.96 680.5,410.96 681.0,410.91 681.5,410.86 682.0,410.86 682.5,410.99 683.0,411.11"/>
<polyline fill="none" stroke="#00f" stroke-width="1.8" stroke-linejoin="round" points="40.0,514.23 40.5,514.35 41.0,514.43 41.5,514.47 42.0,514.32 42.5,514.20 43.0,514.08 43.5,514.08 44.0,514.08 44.5,514.17 45.0,514.23 45.5,514.30 46.0,514.27 46.5,514.27 47.0,514.28 47.5,514.34 48.0,514.35 48.5,514.35 49.0,514.35 49.5,514.37 50.0,514.43 50.5,514.43 51.0,514.41 51.5,514.32 52.0,514.31 52.5,514.24 53.0,514.22 53.5,514.17 54.0,514.15 54.5,513.99 55.0,513.77 55.5,513.52 56.0,513.29 56.5,513.04 57.0,512.79 57.5,512.69 58.0,512.77 58.5,513.00 59.0,513.22 59.5,513.49 60.0,513.74 60.5,514.00 61.0,514.16 61.5,514.27 62.0,514.32 62.5,514.32 63.0,514.31 63.5,514.33 64.0,514.36 64.5,514.38 65.0,514.33 65.5,514.26 66.0,514.23 66.5,514.29 67.0,514.39 67.5,514.42 68.0,514.31 68.5,514.17 69.0,514.10 69.5,514.16 70.0,514.26 70.5,514.34 71.0,514.35 71.5,514.29 72.0,514.16 72.5,514.13 73.0,514.09 73.5,514.12 74.0,514.07 74.5,514.14 75.0,514.23 75.5,514.33 76.0,514.30 76.5,514.18 77.0,514.07 77.5,514.04 78.0,514.05 78.5,513.97 79.0,513.81 79.5,513.55 80.0,513.34 80.5,513.14 81.0,513.03 81.5,512.95 82.0,513.02 82.5,513.17 83.0,513.36 83.5,513.50 84.0,513.66 84.5,513.86 85.0,514.00 85.5,514.06 86.0,514.13 86.5,514.22 87.0,514.35 87.5,514.39 88.0,514.42 88.5,514.37 89.0,514.30 89.5,514.15 90.0,513.98 90.5,513.84 91.0,513.82 91.5,513.84 92.0,513.87 92.5,513.77 93.0,513.67 93.5,513.54 94.0,513.47 94.5,513.46 95.0,513.54 95.5,513.71 96.0,513.88 96.5,514.00 97.0,514.01 97.5,514.02 98.0,514.04 98.5,514.10 99.0,514.21 99.5,514.23 100.0,514.23 100.5,514.13 101.0,514.17 101.5,514.24 102.0,514.39 102.5,514.44 103.0,514.46 103.5,514.40 104.0,514.33 104.5,514.27 105.0,514.29 105.5,514.29 106.0,514.34 106.5,514.35 107.0,514.37 107.5,514.38 108.0,514.32 108.5,514.29 109.0,514.17 109.5,514.20 110.0,514.17 110.5,514.29 111.0,514.35 111.5,514.44 112.0,514.41 112.5,514.36 113.0,514.27 113.5,514.24 114.0,514.14 114.5,514.01 115.0,513.70 115.5,513.33 116.0,512.71 116.5,511.92 117.0,510.87 117.5,509.79 118.0,508.79 118.5,508.02 119.0,507.48 119.5,507.29 120.0,507.54 120.5,508.26 121.0,509.23 121.5,510.30 122.0,511.31 122.5,512.22 123.0,512.94 123.5,513.43 124.0,513.78 124.5,514.07 125.0,514.32 125.5,514.45 126.0,514.47 126.5,514.41 127.0,514.31 127.5,514.21 128.0,514.11 128.5,514.03 129.0,513.92 129.5,513.69 130.0,513.23 130.5,512.45 131.0,511.40 131.5,510.14 132.0,508.81 132.5,507.52 133.0,506.41 133.5,505.67 134.0,505.45 134.5,505.81 135.0,506.68 135.5,507.90 136.0,509.21 136.5,510.47 137.0,511.53 137.5,512.42 138.0,513.02 138.5,513.48 139.0,513.74 139.5,513.97 140.0,514.06 140.5,514.18 141.0,514.22 141.5,514.24 142.0,514.19 142.5,514.10 143.0,514.01 143.5,513.90 144.0,513.78 144.5,513.57 145.0,513.26 145.5,512.98 146.0,512.77 146.5,512.69 147.0,512.57 147.5,512.62 148.0,512.75 148.5,513.06 149.0,513.36 149.5,513.68 150.0,513.89 150.5,514.02 151.0,514.09 151.5,514.17 152.0,514.20 152.5,514.16 153.0,514.15 153.5,514.18 154.0,514.25 154.5,514.28 155.0,514.29 155.5,514.31 156.0,514.28 156.5,514.24 157.0,514.27 157.5,514.43 158.0,514.58 158.5,514.56 159.0,514.39 159.5,514.17 160.0,513.95 160.5,513.71 161.0,513.37 161.5,512.87 162.0,512.21 162.5,511.32 163.0,510.36 163.5,509.39 164.0,508.74 164.5,508.38 165.0,508.35 165.5,508.56 166.0,509.07 166.5,509.74 167.0,510.53 167.5,511.34 168.0,512.19 168.5,512.94 169.0,513.52 169.5,513.87 170.0,514.02 170.5,514.11 171.0,514.13 171.5,514.18 172.0,514.17 172.5,514.25 173.0,514.33 173.5,514.38 174.0,514.23 174.5,513.96 175.0,513.63 175.5,513.33 176.0,512.98 176.5,512.56 177.0,511.99 177.5,511.35 178.0,510.70 178.5,510.23 179.0,509.95 179.5,509.89 180.0,510.05 180.5,510.39 181.0,510.91 181.5,511.47 182.0,512.08 182.5,512.60 183.0,513.07 183.5,513.44 184.0,513.78 184.5,514.04 185.0,514.28 185.5,514.36 186.0,514.41 186.5,514.29 187.0,514.25 187.5,514.11 188.0,514.04 188.5,513.85 189.0,513.61 189.5,513.29 190.0,513.00 190.5,512.77 191.0,512.69 191.5,512.68 192.0,512.77 192.5,512.87 193.0,513.07 193.5,513.28 194.0,513.50 194.5,513.68 195.0,513.83 195.5,514.00 196.0,514.13 196.5,514.25 197.0,514.31 197.5,514.35 198.0,514.37 198.5,514.39 199.0,514.44 199.5,514.43 200.0,514.34 200.5,514.30 201.0,514.21 201.5,514.20 202.0,514.01 202.5,513.91 203.0,513.79 203.5,513.78 204.0,513.67 204.5,513.56 205.0,513.40 205.5,513.28 206.0,513.17 206.5,513.12 207.0,513.16 207.5,513.27 208.0,513.38 208.5,513.49 209.0,513.62 209.5,513.80 210.0,514.01 210.5,514.16 211.0,514.25 211.5,514.29 212.0,514.28 212.5,514.29 213.0,514.24 213.5,514.26 214.0,514.21 214.5,514.23 215.0,514.24 215.5,514.34 216.0,514.37 216.5,514.36 217.0,514.22 217.5,514.09 218.0,514.00 218.5,514.06 219.0,514.16 219.5,514.24 220.0,514.23 220.5,514.18 221.0,514.15 221.5,514.21 222.0,514.27 222.5,514.28 223.0,514.23 223.5,514.20 224.0,514.21 224.5,514.23 225.0,514.29 225.5,514.37 226.0,514.42 226.5,514.45 227.0,514.41 227.5,514.43 228.0,514.39 228.5,514.37 229.0,514.29 229.5,514.32 230.0,514.36 230.5,514.45 231.0,514.44 231.5,514.42 232.0,514.32 232.5,514.22 233.0,514.13 233.5,514.05 234.0,514.04 234.5,514.02 235.0,513.96 235.5,513.76 236.0,513.49 236.5,513.11 237.0,512.64 237.5,511.96 238.0,511.18 238.5,510.35 239.0,509.62 239.5,508.92 240.0,508.29 240.5,507.86 241.0,507.77 241.5,508.04 242.0,508.57 242.5,509.34 243.0,510.25 243.5,511.14 244.0,511.87 244.5,512.44 245.0,512.94 245.5,513.35 246.0,513.71 246.5,513.98 247.0,514.23 247.5,514.35 248.0,514.42 248.5,514.42 249.0,514.40 249.5,514.39 250.0,514.40 250.5,514.38 251.0,514.32 251.5,514.29 252.0,514.35 252.5,514.38 253.0,514.33 253.5,514.27 254.0,514.24 254.5,514.30 255.0,514.32 255.5,514.39 256.0,514.41 256.5,514.39 257.0,514.30 257.5,514.22 258.0,514.18 258.5,514.18 259.0,514.16 259.5,514.20 260.0,514.27 260.5,514.35 261.0,514.36 261.5,514.29 262.0,514.23 262.5,514.13 263.0,514.05 263.5,513.91 264.0,513.84 264.5,513.74 265.0,513.67 265.5,513.51 266.0,513.43 266.5,513.44 267.0,513.50 267.5,513.59 268.0,513.67 268.5,513.85 269.0,513.96 269.5,514.04 270.0,514.05 270.5,514.10 271.0,514.15 271.5,514.24 272.0,514.30 272.5,514.36 273.0,514.36 273.5,514.37 274.0,514.33 274.5,514.30 275.0,514.27 275.5,514.28 276.0,514.31 276.5,514.29 277.0,514.29 277.5,514.25 278.0,514.26 278.5,514.25 279.0,514.28 279.5,514.25 280.0,514.25 280.5,514.25 281.0,514.33 281.5,514.34 282.0,514.38 282.5,514.35 283.0,514.32 283.5,514.18 284.0,514.12 284.5,514.06 285.0,514.13 285.5,514.16 286.0,514.16 286.5,514.14 287.0,514.12 287.5,514.16 288.0,514.17 288.5,514.16 289.0,514.15 289.5,514.21 290.0,514.30 290.5,514.35 291.0,514.35 291.5,514.36 292.0,514.38 292.5,514.38 293.0,514.30 293.5,514.23 294.0,514.13 294.5,514.11 295.0,514.02 295.5,513.99 296.0,513.93 296.5,514.03 297.0,514.19 297.5,514.38 298.0,514.45 298.5,514.31 299.0,514.16 299.5,513.97 300.0,513.92 300.5,513.77 301.0,513.74 301.5,513.62 302.0,513.56 302.5,513.31 303.0,513.07 303.5,512.85 304.0,512.75 304.5,512.68 305.0,512.61 305.5,512.60 306.0,512.66 306.5,512.82 307.0,513.06 307.5,513.38 308.0,513.66 308.5,513.80 309.0,513.83 309.5,513.90 310.0,514.02 310.5,514.15 311.0,514.21 311.5,514.26 312.0,514.24 312.5,514.20 313.0,514.14 313.5,514.21 314.0,514.32 314.5,514.40 315.0,514.34 315.5,514.24 316.0,514.20 316.5,514.23 317.0,514.29 317.5,514.31 318.0,514.28 318.5,514.14 319.0,514.09 319.5,514.06 320.0,514.15 320.5,514.17 321.0,514.19 321.5,514.21 322.0,514.20 322.5,514.08 323.0,513.85 323.5,513.54 324.0,513.21 324.5,512.81 325.0,512.41 325.5,512.01 326.0,511.59 326.5,511.14 327.0,510.71 327.5,510.38 328.0,510.22 328.5,510.24 329.0,510.45 329.5,510.73 330.0,511.04 330.5,511.32 331.0,511.69 331.5,512.09 332.0,512.54 332.5,512.89 333.0,513.23 333.5,513.53 334.0,513.81 334.5,514.02 335.0,514.13 335.5,514.16 336.0,514.15 336.5,514.11 337.0,514.10 337.5,514.10 338.0,514.18 338.5,514.24 339.0,514.29 339.5,514.28 340.0,514.20 340.5,514.13 341.0,514.05 341.5,514.07 342.0,514.15 342.5,514.24 343.0,514.30 343.5,514.23 344.0,514.13 344.5,513.92 345.0,513.74 345.5,513.50 346.0,513.31 346.5,513.08 347.0,512.82 347.5,512.48 348.0,512.13 348.5,511.78 349.0,511.44 349.5,511.12 350.0,510.90 350.5,510.91 351.0,511.07 351.5,511.29 352.0,511.50 352.5,511.71 353.0,511.97 353.5,512.21 354.0,512.52 354.5,512.83 355.0,513.20 355.5,513.46 356.0,513.67 356.5,513.80 357.0,513.90 357.5,513.94 358.0,513.95 358.5,513.97 359.0,513.98 359.5,513.98 360.0,514.00 360.5,514.00 361.0,514.00 361.5,513.99 362.0,514.06 362.5,514.15 363.0,514.25 363.5,514.27 364.0,514.25 364.5,514.24 365.0,514.25 365.5,514.26 366.0,514.20 366.5,514.15 367.0,514.10 367.5,514.13 368.0,514.14 368.5,514.22 369.0,514.26 369.5,514.24 370.0,514.11 370.5,513.99 371.0,513.98 371.5,514.07 372.0,514.18 372.5,514.22 373.0,514.24 373.5,514.20 374.0,514.16 374.5,514.05 375.0,513.94 375.5,513.89 376.0,513.90 376.5,513.94 377.0,513.89 377.5,513.74 378.0,513.57 378.5,513.45 379.0,513.43 379.5,513.38 380.0,513.37 380.5,513.34 381.0,513.39 381.5,513.47 382.0,513.56 382.5,513.70 383.0,513.78 383.5,513.83 384.0,513.79 384.5,513.78 385.0,513.75 385.5,513.75 386.0,513.73 386.5,513.75 387.0,513.72 387.5,513.64 388.0,513.63 388.5,513.71 389.0,513.81 389.5,513.79 390.0,513.66 390.5,513.59 391.0,513.55 391.5,513.61 392.0,513.54 392.5,513.50 393.0,513.35 393.5,513.29 394.0,513.19 394.5,513.12 395.0,512.89 395.5,512.47 396.0,511.71 396.5,510.59 397.0,509.05 397.5,507.11 398.0,504.64 398.5,501.50 399.0,497.46 399.5,492.57 400.0,486.87 400.5,480.66 401.0,474.12 401.5,467.53 402.0,461.20 402.5,455.41 403.0,450.65 403.5,447.28 404.0,445.66 404.5,445.81 405.0,447.76 405.5,451.33 406.0,456.34 406.5,462.32 407.0,468.88 407.5,475.56 408.0,482.03 408.5,488.09 409.0,493.53 409.5,498.30 410.0,502.19 410.5,505.30 411.0,507.67 411.5,509.46 412.0,510.76 412.5,511.67 413.0,512.34 413.5,512.77 414.0,513.07 414.5,513.22 415.0,513.32 415.5,513.38 416.0,513.45 416.5,513.54 417.0,513.64 417.5,513.75 418.0,513.79 418.5,513.80 419.0,513.79 419.5,513.81 420.0,513.79 420.5,513.80 421.0,513.77 421.5,513.78 422.0,513.73 422.5,513.73 423.0,513.72 423.5,513.76 424.0,513.75 424.5,513.78 425.0,513.77 425.5,513.83 426.0,513.86 426.5,513.90 427.0,513.92 427.5,513.84 428.0,513.78 428.5,513.72 429.0,513.78 429.5,513.79 430.0,513.80 430.5,513.77 431.0,513.76 431.5,513.68 432.0,513.56 432.5,513.43 433.0,513.33 433.5,513.29 434.0,513.32 434.5,513.39 435.0,513.45 435.5,513.46 436.0,513.47 436.5,513.51 437.0,513.54 437.5,513.53 438.0,513.48 438.5,513.51 439.0,513.65 439.5,513.75 440.0,513.81 440.5,513.80 441.0,513.85 441.5,513.91 442.0,513.99 442.5,514.00 443.0,514.02 443.5,513.97 444.0,513.94 444.5,513.84 445.0,513.78 445.5,513.67 446.0,513.65 446.5,513.60 447.0,513.59 447.5,513.51 448.0,513.45 448.5,513.35 449.0,513.34 449.5,513.33 450.0,513.43 450.5,513.41 451.0,513.47 451.5,513.48 452.0,513.65 452.5,513.68 453.0,513.73 453.5,513.67 454.0,513.75 454.5,513.83 455.0,513.95 455.5,513.98 456.0,513.95 456.5,513.86 457.0,513.82 457.5,513.81 458.0,513.86 458.5,513.85 459.0,513.79 459.5,513.68 460.0,513.58 460.5,513.58 461.0,513.62 461.5,513.61 462.0,513.55 462.5,513.44 463.0,513.40 463.5,513.32 464.0,513.14 464.5,512.98 465.0,512.80 465.5,512.71 466.0,512.53 466.5,512.38 467.0,512.21 467.5,512.00 468.0,511.77 468.5,511.60 469.0,511.51 469.5,511.37 470.0,511.17 470.5,511.05 471.0,511.01 471.5,511.03 472.0,510.90 472.5,510.83 473.0,510.79 473.5,510.89 474.0,510.92 474.5,510.90 475.0,510.87 475.5,510.89 476.0,510.88 476.5,510.68 477.0,510.28 477.5,509.72 478.0,508.93 478.5,507.75 479.0,506.14 479.5,504.07 480.0,501.55 480.5,498.48 481.0,494.95 481.5,491.02 482.0,486.87 482.5,482.58 483.0,478.43 483.5,474.67 484.0,471.60 484.5,469.40 485.0,468.17 485.5,468.01 486.0,468.93 486.5,470.90 487.0,473.76 487.5,477.38 488.0,481.47 488.5,485.73 489.0,489.90 489.5,493.90 490.0,497.61 490.5,500.85 491.0,503.49 491.5,505.51 492.0,507.11 492.5,508.36 493.0,509.35 493.5,509.98 494.0,510.43 494.5,510.70 495.0,510.92 495.5,511.13 496.0,511.29 496.5,511.44 497.0,511.46 497.5,511.47 498.0,511.39 498.5,511.39 499.0,511.44 499.5,511.59 500.0,511.77 500.5,511.91 501.0,512.05 501.5,512.18 502.0,512.37 502.5,512.56 503.0,512.71 503.5,512.82 504.0,512.88 504.5,512.95 505.0,513.06 505.5,513.30 506.0,513.52 506.5,513.70 507.0,513.77 507.5,513.83 508.0,513.85 508.5,513.83 509.0,513.83 509.5,513.89 510.0,513.94 510.5,514.00 511.0,514.00 511.5,514.00 512.0,513.94 512.5,513.86 513.0,513.87 513.5,513.95 514.0,514.05 514.5,514.09 515.0,514.09 515.5,514.07 516.0,514.05 516.5,513.97 517.0,513.96 517.5,514.01 518.0,514.19 518.5,514.25 519.0,514.21 519.5,514.06 520.0,514.02 520.5,514.06 521.0,514.17 521.5,514.21 522.0,514.19 522.5,514.17 523.0,514.15 523.5,514.11 524.0,514.10 524.5,514.18 525.0,514.29 525.5,514.34 526.0,514.28 526.5,514.21 527.0,514.20 527.5,514.20 528.0,514.19 528.5,514.14 529.0,514.16 529.5,514.20 530.0,514.25 530.5,514.27 531.0,514.29 531.5,514.32 532.0,514.29 532.5,514.22 533.0,514.09 533.5,514.04 534.0,514.05 534.5,514.16 535.0,514.26 535.5,514.29 536.0,514.22 536.5,514.10 537.0,514.04 537.5,514.02 538.0,514.06 538.5,514.10 539.0,514.10 539.5,514.06 540.0,513.99 540.5,513.95 541.0,513.95 541.5,513.98 542.0,514.02 542.5,513.98 543.0,513.98 543.5,513.94 544.0,513.91 544.5,513.80 545.0,513.75 545.5,513.79 546.0,513.85 546.5,513.86 547.0,513.81 547.5,513.84 548.0,513.89 548.5,513.90 549.0,513.89 549.5,513.86 550.0,513.99 550.5,514.10 551.0,514.18 551.5,514.14 552.0,514.11 552.5,514.14 553.0,514.21 553.5,514.28 554.0,514.27 554.5,514.31 555.0,514.34 555.5,514.41 556.0,514.39 556.5,514.39 557.0,514.36 557.5,514.35 558.0,514.32 558.5,514.32 559.0,514.34 559.5,514.32 560.0,514.32 560.5,514.27 561.0,514.31 561.5,514.24 562.0,514.13 562.5,513.89 563.0,513.66 563.5,513.44 564.0,513.14 564.5,512.78 565.0,512.27 565.5,511.85 566.0,511.46 566.5,511.09 567.0,510.60 567.5,510.04 568.0,509.54 568.5,509.15 569.0,508.84 569.5,508.62 570.0,508.45 570.5,508.46 571.0,508.58 571.5,508.88 572.0,509.21 572.5,509.61 573.0,510.00 573.5,510.47 574.0,510.96 574.5,511.57 575.0,512.13 575.5,512.65 576.0,512.96 576.5,513.25 577.0,513.48 577.5,513.75 578.0,513.91 578.5,513.93 579.0,513.90 579.5,513.89 580.0,513.92 580.5,513.93 581.0,513.79 581.5,513.67 582.0,513.52 582.5,513.46 583.0,513.30 583.5,513.15 584.0,512.96 584.5,512.87 585.0,512.70 585.5,512.62 586.0,512.55 586.5,512.61 587.0,512.62 587.5,512.55 588.0,512.46 588.5,512.43 589.0,512.58 589.5,512.84 590.0,513.12 590.5,513.37 591.0,513.55 591.5,513.75 592.0,513.91 592.5,514.04 593.0,513.99 593.5,513.92 594.0,513.86 594.5,513.96 595.0,514.11 595.5,514.24 596.0,514.37 596.5,514.39 597.0,514.36 597.5,514.26 598.0,514.26 598.5,514.27 599.0,514.26 599.5,514.20 600.0,514.19 600.5,514.26 601.0,514.33 601.5,514.33 602.0,514.29 602.5,514.29 603.0,514.31 603.5,514.34 604.0,514.29 604.5,514.26 605.0,514.18 605.5,514.14 606.0,514.07 606.5,514.05 607.0,514.10 607.5,514.20 608.0,514.31 608.5,514.28 609.0,514.17 609.5,514.02 610.0,513.96 610.5,513.97 611.0,514.06 611.5,514.12 612.0,514.16 612.5,514.22 613.0,514.24 613.5,514.28 614.0,514.23 614.5,514.25 615.0,514.20 615.5,514.22 616.0,514.13 616.5,514.15 617.0,514.12 617.5,514.14 618.0,514.08 618.5,514.02 619.0,514.01 619.5,514.07 620.0,514.14 620.5,514.15 621.0,514.10 621.5,514.06 622.0,514.07 622.5,514.11 623.0,514.18 623.5,514.21 624.0,514.17 624.5,514.15 625.0,514.09 625.5,514.15 626.0,514.18 626.5,514.30 627.0,514.39 627.5,514.43 628.0,514.37 628.5,514.27 629.0,514.21 629.5,514.23 630.0,514.36 630.5,514.48 631.0,514.55 631.5,514.46 632.0,514.39 632.5,514.32 633.0,514.30 633.5,514.25 634.0,514.15 634.5,514.14 635.0,514.19 635.5,514.34 636.0,514.39 636.5,514.42 637.0,514.40 637.5,514.37 638.0,514.30 638.5,514.27 639.0,514.23 639.5,514.23 640.0,514.26 640.5,514.37 641.0,514.48 641.5,514.44 642.0,514.35 642.5,514.25 643.0,514.29 643.5,514.31 644.0,514.33 644.5,514.31 645.0,514.35 645.5,514.36 646.0,514.37 646.5,514.36 647.0,514.38 647.5,514.41 648.0,514.36 648.5,514.32 649.0,514.23 649.5,514.17 650.0,514.13 650.5,514.17 651.0,514.29 651.5,514.32 652.0,514.31 652.5,514.17 653.0,514.14 653.5,514.19 654.0,514.29 654.5,514.34 655.0,514.27 655.5,514.25 656.0,514.22 656.5,514.23 657.0,514.25 657.5,514.27 658.0,514.32 658.5,514.31 659.0,514.29 659.5,514.21 660.0,514.16 660.5,514.21 661.0,514.31 661.5,514.40 662.0,514.35 662.5,514.32 663.0,514.34 663.5,514.44 664.0,514.46 664.5,514.42 665.0,514.29 665.5,514.22 666.0,514.20 666.5,514.25 667.0,514.27 667.5,514.28 668.0,514.25 668.5,514.20 669.0,514.12 669.5,514.14 670.0,514.18 670.5,514.31 671.0,514.37 671.5,514.40 672.0,514.26 672.5,514.11 673.0,514.00 673.5,514.03 674.0,514.14 674.5,514.26 675.0,514.31 675.5,514.32 676.0,514.28 676.5,514.30 677.0,514.34 677.5,514.45 678.0,514.54 678.5,514.59 679.0,514.54 679.5,514.45 680.0,514.32 680.5,514.24 681.0,514.17 681.5,514.15 682.0,514.13 682.5,514.17 683.0,514.19"/>
<path d="M40 1V531 M39 520H684 M29 2.00H40 M34 53.25H40 M29 104.50H40 M34 155.75H40 M29 207.00H40 M34 258.25H40 M29 309.50H40 M34 360.75H40 M29 412.00H40 M34 463.25H40 M29 514.50H40 M40.00 520V531 M89.45 520V526 M138.90 520V531 M188.35 520V526 M237.80 520V531 M287.25 520V526 M336.70 520V531 M386.15 520V526 M435.60 520V531 M485.05 520V526 M534.50 520V531 M583.95 520V526 M633.40 520V531 M682.85 520V526" fill="none" stroke="#000" stroke-width="2" stroke-linecap="butt"/>
<text x="40.0" y="548.2" font-size="14.67" text-anchor="middle">200</text>
<text x="138.9" y="548.2" font-size="14.67" text-anchor="middle">400</text>
<text x="237.8" y="548.2" font-size="14.67" text-anchor="middle">600</text>
<text x="336.7" y="548.2" font-size="14.67" text-anchor="middle">800</text>
<text x="435.6" y="548.2" font-size="14.67" text-anchor="middle">1000</text>
<text x="534.5" y="548.2" font-size="14.67" text-anchor="middle">1200</text>
<text x="633.4" y="548.2" font-size="14.67" text-anchor="middle">1400</text>
<text x="361.7" y="574.5" font-size="14.67" text-anchor="middle">Energy (KeV)</text>
<text transform="translate(16,246.5) rotate(-90)" font-size="14.67" text-anchor="middle">Counts</text>
<line x1="419" x2="452.8" y1="16.7" y2="16.7" stroke="#000" stroke-width="1.8"/>
<text x="456.5" y="21.9" font-size="14.67">large red bead, p.r. side</text>
<line x1="419" x2="452.8" y1="34.8" y2="34.8" stroke="#f00" stroke-width="1.8"/>
<text x="456.5" y="39.9" font-size="14.67">red bugle bead, p.l. side</text>
<line x1="419" x2="452.8" y1="52.8" y2="52.8" stroke="#00f" stroke-width="1.8"/>
<text x="456.5" y="57.9" font-size="14.67">colorless stone, upper p.r. corner</text>
<text x="572.6" y="296.5" font-size="19.5">Type 1 glass</text>
<text x="572.6" y="398.2" font-size="19.5">Type 2 glass</text>
<text x="572.6" y="500.0" font-size="19.5">Type 3 glass</text>
<text x="55" y="290" font-size="13.33">Si<tspan font-size="8.7" dy="4.4">Kα</tspan></text>
<text x="115.2" y="280.9" font-size="13.33">K<tspan font-size="8.7" dy="4.4">Kα</tspan></text>
<text x="340.8" y="102.5" font-size="13.33">Zn<tspan font-size="8.7" dy="4.4">Kα</tspan></text>
<text x="377.6" y="272.5" font-size="13.33">Zn<tspan font-size="8.7" dy="4.4">Kβ</tspan></text>
<text x="424.2" y="293.5" font-size="13.33">Se<tspan font-size="8.7" dy="4.4">Kα</tspan></text>
<text x="131.2" y="383.3" font-size="13.33">Ca<tspan font-size="8.7" dy="4.4">Kα</tspan></text>
<text x="231.6" y="395.5" font-size="13.33">Fe<tspan font-size="8.7" dy="4.4">Kα</tspan></text>
<text x="152.8" y="495.7" font-size="13.33">Ba<tspan font-size="8.7" dy="4.4">Lα</tspan></text>
<text x="182.2" y="502" font-size="13.33">Ba<tspan font-size="8.7" dy="4.4">Lβ</tspan></text>
<text x="409.6" y="445.4" font-size="13.33">Pb<tspan font-size="8.7" dy="4.4">Lα</tspan></text>
<text x="490.4" y="466.4" font-size="13.33">Pb<tspan font-size="8.7" dy="4.4">Lβ</tspan></text>
</svg></body></html>
